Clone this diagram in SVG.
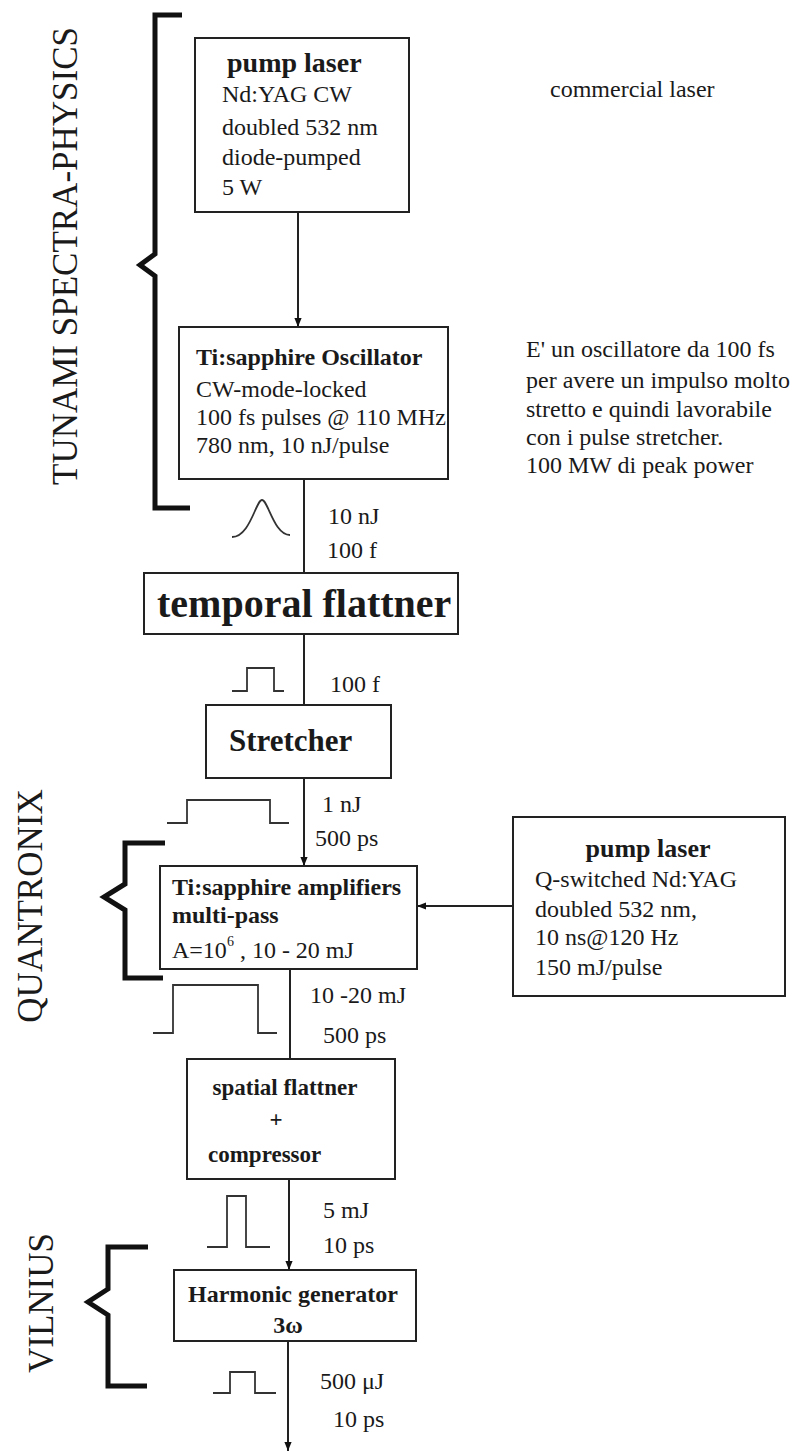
<svg xmlns="http://www.w3.org/2000/svg" width="797" height="1452" viewBox="0 0 797 1452">
<defs>
<marker id="ah" viewBox="0 0 10 10" refX="10" refY="5" markerWidth="9" markerHeight="9" markerUnits="userSpaceOnUse" orient="auto">
<path d="M0,1 L10,5 L0,9 Z" fill="#111"/>
</marker>
<style>
text{font-family:"Liberation Serif","Times New Roman",serif;fill:#1a1a1a}
.r{font-size:24px}
.b{font-size:24px;font-weight:bold}
.box{fill:#fff;stroke:#222;stroke-width:2}
.ln{fill:none;stroke:#222;stroke-width:2}
.br{fill:none;stroke:#111;stroke-width:5;stroke-linejoin:miter}
.p{fill:none;stroke:#333;stroke-width:1.8}
.vt{font-size:35px;text-anchor:middle}
.c{text-anchor:middle}
</style>
</defs>
<rect width="797" height="1452" fill="#fff"/>

<g id="labels-groups">
<text class="vt" transform="translate(77,256) rotate(-90)">TUNAMI SPECTRA-PHYSICS</text>
<text class="vt" transform="translate(42,906) rotate(-90)">QUANTRONIX</text>
<text class="vt" transform="translate(53,1303) rotate(-90)">VILNIUS</text>
<path class="br" d="M182,15 L155,15 L155,254 L140,265 L155,276 L155,508 L190,508"/>
<path class="br" d="M165,843 L125,843 L125,884 L104,897 L125,910 L125,978 L163,978"/>
<path class="br" d="M148,1247 L108,1247 L108,1289 L88,1302 L108,1315 L108,1386 L147,1386"/>
</g>

<g id="connectors">
<line class="ln" x1="298" y1="212" x2="298" y2="327" marker-end="url(#ah)"/>
<line class="ln" x1="304" y1="479" x2="304" y2="573"/>
<line class="ln" x1="304" y1="634" x2="304" y2="705"/>
<line class="ln" x1="304" y1="778" x2="304" y2="866" marker-end="url(#ah)"/>
<line class="ln" x1="513" y1="906" x2="417" y2="906" marker-end="url(#ah)"/>
<line class="ln" x1="290" y1="969" x2="290" y2="1059"/>
<line class="ln" x1="289" y1="1179" x2="289" y2="1270" marker-end="url(#ah)"/>
<line class="ln" x1="288" y1="1341" x2="288" y2="1451" marker-end="url(#ah)"/>
</g>

<g id="pulses">
<path class="p" d="M232,537 C250,537 256,500 262,500 C268,500 274,535 290,535"/>
<path class="p" d="M232,691 L247,691 L247,668 L274,668 L274,691 L284,691"/>
<path class="p" d="M167,823 L187,823 L187,800 L270,800 L270,823 L289,823"/>
<path class="p" d="M153,1033 L173,1033 L173,985 L258,985 L258,1033 L277,1033"/>
<path class="p" d="M207,1247 L227,1247 L227,1196 L246,1196 L246,1247 L270,1247"/>
<path class="p" d="M213,1393 L230,1393 L230,1372 L255,1372 L255,1393 L276,1393"/>
</g>

<g id="beam-labels" class="r">
<text x="328" y="524">10 nJ</text>
<text x="327" y="558">100 f</text>
<text x="330" y="692">100 f</text>
<text x="322" y="812">1 nJ</text>
<text x="315" y="846">500 ps</text>
<text x="310" y="1003">10 -20 mJ</text>
<text x="323" y="1043">500 ps</text>
<text x="323" y="1218">5 mJ</text>
<text x="323" y="1253">10 ps</text>
<text x="320" y="1389">500 μJ</text>
<text x="333" y="1427">10 ps</text>
</g>

<g id="pump-laser">
<rect class="box" x="195" y="38" width="214" height="174"/>
<text x="227" y="72" style="font-size:28px;font-weight:bold">pump laser</text>
<text class="r" x="222" y="102">Nd:YAG CW</text>
<text class="r" x="222" y="135">doubled 532 nm</text>
<text class="r" x="222" y="165">diode-pumped</text>
<text class="r" x="222" y="195">5 W</text>
</g>

<g id="note-commercial">
<text class="r" x="550" y="97">commercial laser</text>
</g>

<g id="oscillator">
<rect class="box" x="179" y="327" width="269" height="152"/>
<text class="b" x="196" y="365">Ti:sapphire Oscillator</text>
<text class="r" x="196" y="397">CW-mode-locked</text>
<text class="r" x="196" y="425">100 fs pulses @ 110 MHz</text>
<text class="r" x="196" y="453">780 nm, 10 nJ/pulse</text>
</g>

<g id="note-oscillator" class="r">
<text x="526" y="357">E' un oscillatore da 100 fs</text>
<text x="526" y="388">per avere un impulso molto</text>
<text x="526" y="417">stretto e quindi lavorabile</text>
<text x="526" y="445">con i pulse stretcher.</text>
<text x="526" y="473">100 MW di peak power</text>
</g>

<g id="temporal-flattner">
<rect class="box" x="144" y="573" width="314" height="61"/>
<text x="157" y="617" style="font-size:40px;font-weight:bold">temporal flattner</text>
</g>

<g id="stretcher">
<rect class="box" x="206" y="705" width="185" height="73"/>
<text x="229" y="751" style="font-size:31px;font-weight:bold">Stretcher</text>
</g>

<g id="amplifier">
<rect class="box" x="160" y="866" width="257" height="103"/>
<text class="b" x="172" y="895">Ti:sapphire amplifiers</text>
<text class="b" x="172" y="923">multi-pass</text>
<text class="r" x="172" y="958">A=10<tspan dy="-12" style="font-size:14px">6</tspan><tspan dy="12"> ,  10 - 20 mJ</tspan></text>
</g>

<g id="pump-laser-2">
<rect class="box" x="513" y="817" width="272" height="179"/>
<text class="b c" x="648" y="857" style="font-size:26px">pump laser</text>
<text class="r" x="535" y="887">Q-switched Nd:YAG</text>
<text class="r" x="535" y="917">doubled 532 nm,</text>
<text class="r" x="535" y="945">10 ns@120 Hz</text>
<text class="r" x="535" y="975">150 mJ/pulse</text>
</g>

<g id="spatial-flattner">
<rect class="box" x="187" y="1059" width="208" height="120"/>
<text class="c" x="285" y="1095" style="font-size:23px;font-weight:bold">spatial flattner</text>
<text class="c" x="276" y="1127" style="font-size:23px;font-weight:bold">+</text>
<text x="208" y="1162" style="font-size:23px;font-weight:bold">compressor</text>
</g>

<g id="harmonic-generator">
<rect class="box" x="174" y="1270" width="242" height="71"/>
<text class="b" x="188" y="1302">Harmonic generator</text>
<text class="b c" x="288" y="1333">3ω</text>
</g>
</svg>
